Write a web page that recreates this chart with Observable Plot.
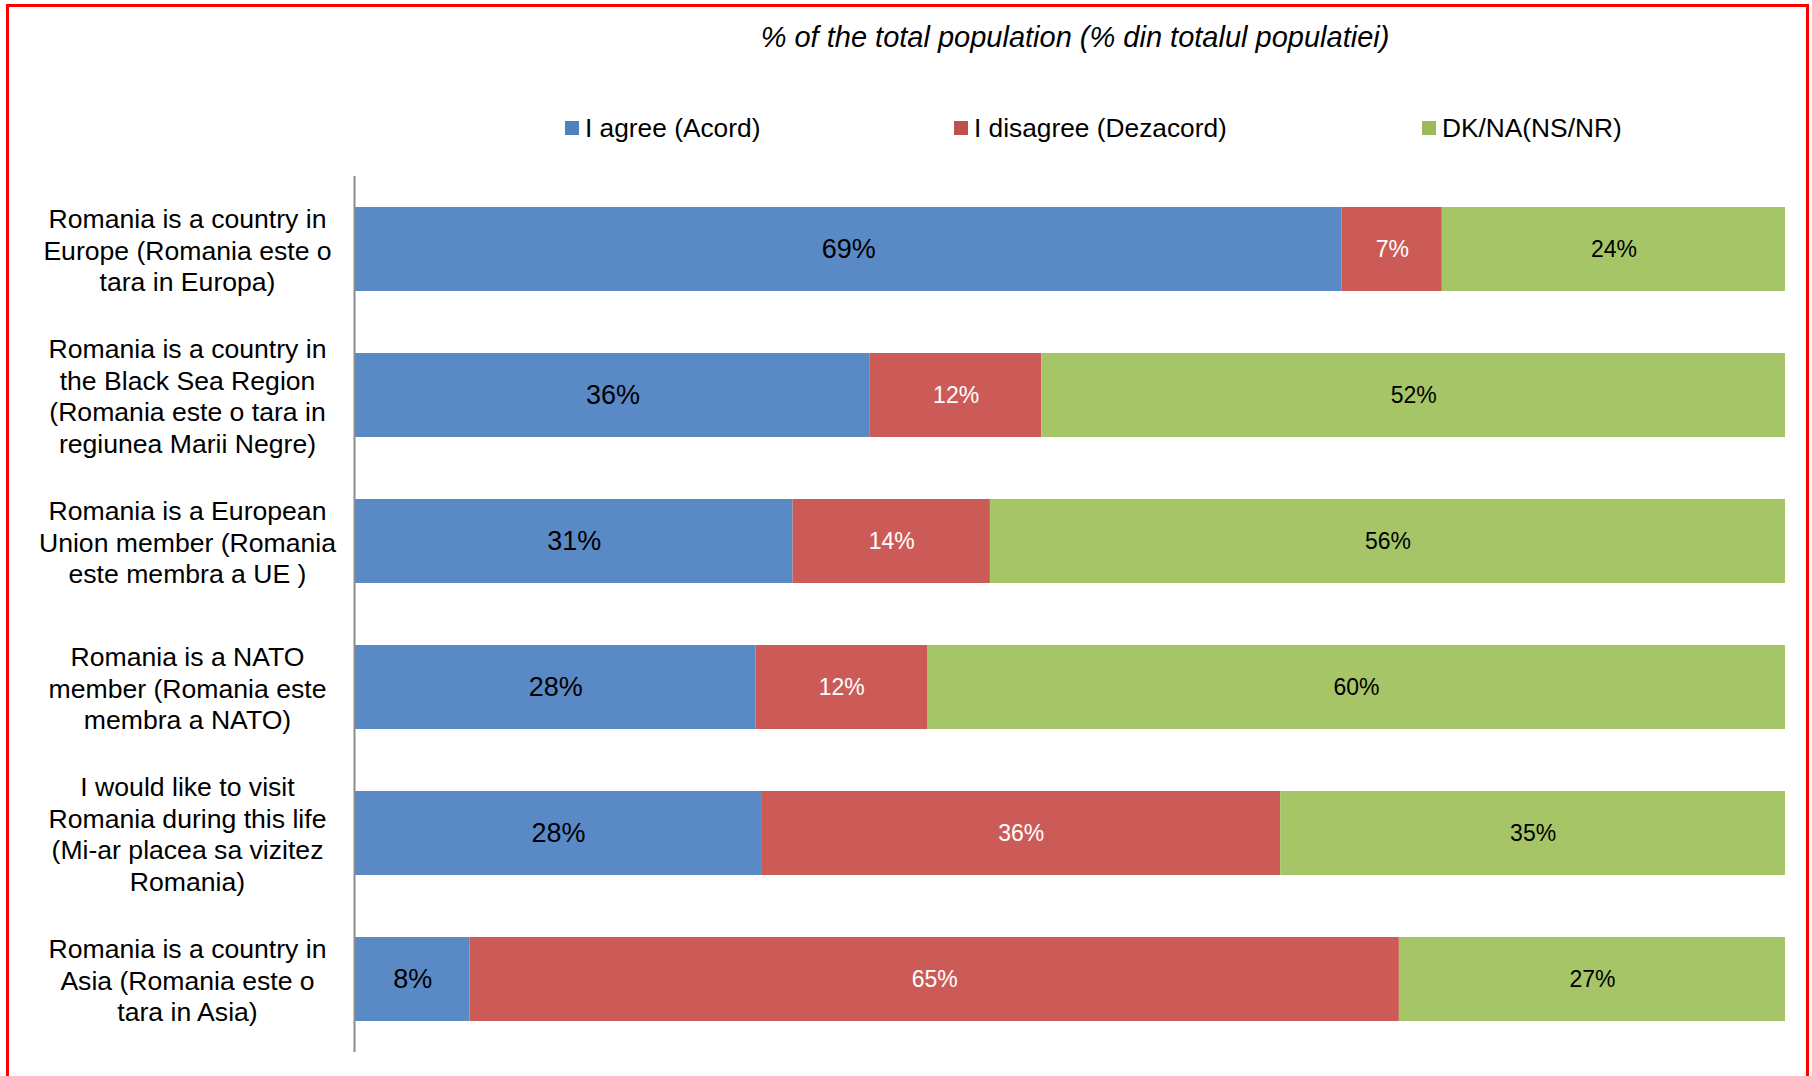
<!DOCTYPE html>
<html>
<head>
<meta charset="utf-8">
<script src="https://cdn.jsdelivr.net/npm/d3@7"></script>
<script src="https://cdn.jsdelivr.net/npm/@observablehq/plot@0.6"></script>
<style>
  html, body { margin: 0; padding: 0; background: #fff; width: 1812px; height: 1076px; overflow: hidden; }
  body { font-family: "Liberation Sans", Arial, sans-serif; position: relative; }
  #frame { position: absolute; left: 6px; top: 4px; width: 1797px; height: 1120px; border: 3px solid #ff0000; }
  #title { position: absolute; left: 0; width: 2150px; top: 20px; text-align: center; font-size: 29px; font-style: italic; line-height: 34px; color: #000; white-space: nowrap; }
  .leg { position: absolute; top: 112px; height: 32px; line-height: 32px; font-size: 26.3px; color: #000; white-space: nowrap; }
  .leg .sw { position: absolute; left: 0; top: 9px; width: 14px; height: 14px; }
  .leg .lt { position: absolute; left: 20px; top: 0; }
  #chart { position: absolute; left: 0; top: 161px; }
</style>
</head>
<body>
<div id="frame"></div>
<div id="title">% of the total population (% din totalul populatiei)</div>
<div id="legend"></div>
<div id="chart"></div>
<script>
const categories = [
  "Romania is a country in\nEurope (Romania este o\ntara in Europa)",
  "Romania is a country in\nthe Black Sea Region\n(Romania este o tara in\nregiunea Marii Negre)",
  "Romania is a European\nUnion member (Romania\neste membra a UE )",
  "Romania is a NATO\nmember (Romania este\nmembra a NATO)",
  "I would like to visit\nRomania during this life\n(Mi-ar placea sa vizitez\nRomania)",
  "Romania is a country in\nAsia (Romania este o\ntara in Asia)"
];
const seriesNames = ["I agree (Acord)", "I disagree (Dezacord)", "DK/NA(NS/NR)"];
const agree    = [69, 36, 30.6, 28, 28.4, 8];
const disagree = [7, 12, 13.8, 12, 36.3, 65];
const dkna     = [24, 52, 55.6, 60, 35.3, 27];
const barColors = ["#5a8ac6", "#cc5b58", "#a6c567"];
const legendColors = ["#4f81bd", "#c0504d", "#9bbb59"];
const legendLeft = [565, 954, 1422];

const seriesValues = [agree, disagree, dkna];
const data = [];
seriesNames.forEach((s, si) => {
  categories.forEach((c, ci) => {
    data.push({cat: c, series: s, si, value: seriesValues[si][ci]});
  });
});

// legend
const leg = document.getElementById("legend");
seriesNames.forEach((s, i) => {
  const d = document.createElement("div");
  d.className = "leg";
  d.style.left = legendLeft[i] + "px";
  d.innerHTML = `<span class="sw" style="background:${legendColors[i]}"></span><span class="lt">${s}</span>`;
  leg.appendChild(d);
});

const fmt = v => `${Math.round(v)}%`;
const font = "Liberation Sans, Arial, sans-serif";
const labelFor = (si, fill, size) => Plot.text(data, Plot.stackX({
  x: "value", y: "cat", z: "series",
  text: d => d.si === si ? fmt(d.value) : null,
  fill, fontSize: size, fontFamily: font
}));

const chart = Plot.plot({
  width: 1812,
  height: 915,
  marginLeft: 355,
  marginRight: 27,
  marginTop: 15,
  marginBottom: 24,
  style: {fontFamily: font, background: "transparent"},
  x: {domain: [0, 100], axis: null},
  y: {domain: categories, axis: null, paddingInner: 0.425, paddingOuter: 0.2125},
  marks: [
    Plot.barX(data, Plot.stackX({x: "value", y: "cat", z: "series", fill: d => barColors[d.si]})),
    labelFor(0, "black", 27),
    labelFor(1, "white", 23),
    labelFor(2, "black", 23),
    Plot.ruleX([0], {stroke: "#8c8c8c", strokeWidth: 2, dx: -1}),
    Plot.text(categories, {
      y: d => d, text: d => d, frameAnchor: "left", dx: -168,
      textAnchor: "middle", fontSize: 26.6, lineHeight: 1.18, fill: "black", fontFamily: font
    })
  ]
});
document.getElementById("chart").appendChild(chart);
</script>
</body>
</html>
